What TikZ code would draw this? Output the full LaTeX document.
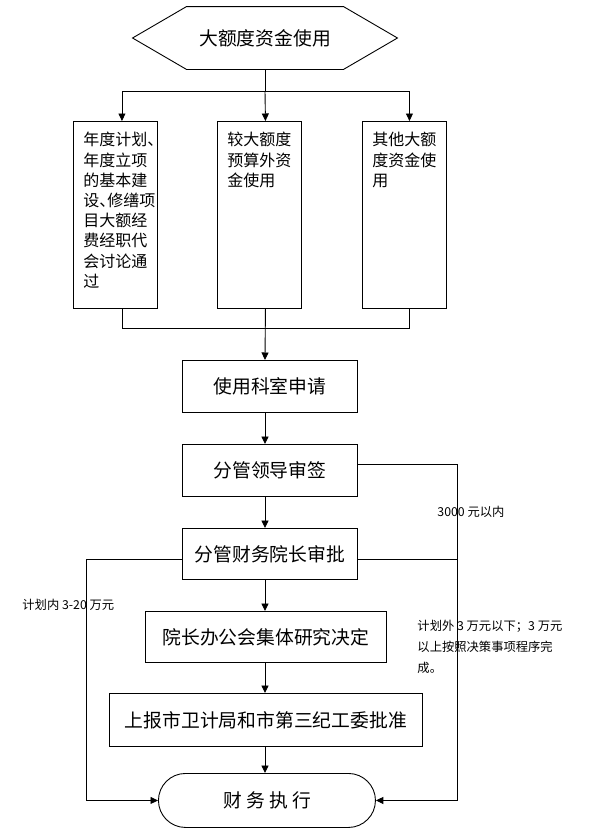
\documentclass[tikz,border=0pt]{standalone}
\usepackage{fontspec}
\setmainfont{Noto Sans CJK SC}
\usetikzlibrary{arrows.meta,calc}
\begin{document}
\begin{tikzpicture}[x=1pt,y=-1pt, line width=0.9pt,
  arr/.style={-{Triangle[length=7.5pt,width=7pt]}},
  box/.style={draw, inner sep=0pt, anchor=north west},
  big/.style={font=\fontsize{18.8}{22}\selectfont},
  col/.style={font=\fontsize{16}{20.2}\selectfont, align=left, anchor=north west, inner sep=0pt},
  small/.style={font=\fontsize{12.3}{21}\selectfont, align=left, inner sep=0pt, anchor=west}]
\useasboundingbox (0,0) rectangle (589,830);
% top hexagon
\node[big, minimum width=264pt, minimum height=62pt, inner sep=0pt] (top) at (265,38) {大额度资金使用};
\draw (top.west) -- ($(top.north west)+(54,0)$) -- ($(top.north east)+(-54,0)$) -- (top.east)
  -- ($(top.south east)+(-54,0)$) -- ($(top.south west)+(54,0)$) -- cycle;
% three boxes
\node[box, minimum width=84pt, minimum height=187pt] (b1) at (73,121) {};
\node[box, minimum width=84pt, minimum height=187pt] (b2) at (217,121) {};
\node[box, minimum width=84pt, minimum height=187pt] (b3) at (362,121) {};
\node[col] (t1) at (83,132) {年度计划\makebox[0.5em][l]{、}\\年度立项\\的基本建\\设\makebox[0.5em][l]{、}修缮项\\目大额经\\费经职代\\会讨论通\\过};
\node[col] (t2) at (227,132) {较大额度\\预算外资\\金使用};
\node[col] (t3) at (372,132) {其他大额\\度资金使\\用};
% main boxes
\node[box, big, minimum width=175pt, minimum height=52pt] (s1) at (182,360) {使用科室申请};
\node[box, big, minimum width=175pt, minimum height=52pt] (s2) at (182,444) {分管领导审签};
\node[box, big, minimum width=175pt, minimum height=51pt] (s3) at (182,528) {分管财务院长审批};
\node[box, big, minimum width=241pt, minimum height=51pt] (s4) at (145,611) {院长办公会集体研究决定};
\node[box, big, minimum width=313pt, minimum height=53pt] (s5) at (109,693) {上报市卫计局和市第三纪工委批准};
\node[draw, big, rounded corners=27pt, minimum width=217pt, minimum height=54pt, anchor=north west, inner sep=0pt] (fin) at (158,773) {财 务 执 行};
% connectors top
\coordinate (jt) at (265,91);
\coordinate (jb) at (265,328);
\coordinate (rx) at (457,0);
\coordinate (lx) at (86,0);
\draw (top.south) -- (jt);
\draw[arr] (jt) -| ([xshift=6.5pt]b1.north);
\draw[arr] (jt) -- ([xshift=6pt]b2.north);
\draw[arr] (jt) -| ([xshift=5pt]b3.north);
\draw ([xshift=6.5pt]b1.south) |- ([xshift=5pt]b3.south |- jb) -- ([xshift=5pt]b3.south);
\draw[arr] ([xshift=6pt]b2.south) -- (s1.north -| jb);
\draw[arr] (s1.south -| jb) -- (s2.north -| jb);
\draw[arr] (s2.south -| jb) -- (s3.north -| jb);
\draw[arr] (s3.south -| jb) -- (s4.north -| jb);
\draw[arr] (s4.south -| jb) -- (s5.north -| jb);
\draw[arr] (s5.south -| jb) -- (fin.north -| jb);
% side routes
\draw[arr] ([yshift=6pt]s2.east) -| (rx |- fin.east) -- (fin.east);
\draw ([yshift=-5pt]s3.east) -- ([yshift=-5pt]s3.east -| rx);
\draw[arr] ([yshift=-5pt]s3.west) -| (lx |- fin.west) -- (fin.west);
% labels
\node[small] (l1) at (437,512) {3000 元以内};
\node[small] (l2) at (22,605) {计划内 3-20 万元};
\node[small, anchor=north west] (l3) at (417,620) {计划外 3 万元以下；3 万元\\以上按照决策事项程序完\\成。};
\end{tikzpicture}
\end{document}
